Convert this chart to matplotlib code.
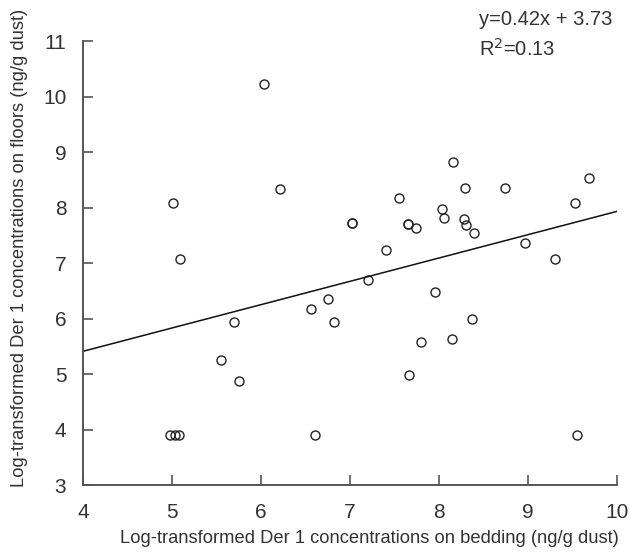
import numpy as np
import matplotlib
matplotlib.use('Agg')
import matplotlib.pyplot as plt

# Der 1 on bedding (x) vs floors (y)
bedding = [4.98, 5.03, 5.08, 5.01, 5.09, 5.55, 5.70, 5.76, 6.04, 6.22,
           6.56, 6.61, 6.75, 6.82, 7.03, 7.03, 7.21, 7.41, 7.55, 7.65,
           7.65, 7.67, 7.74, 7.80, 7.955, 8.04, 8.06, 8.165, 8.15, 8.28,
           8.30, 8.31, 8.37, 8.40, 8.74, 8.97, 9.31, 9.53, 9.55, 9.69]
floors = [3.90, 3.90, 3.90, 8.08, 7.08, 5.26, 5.93, 4.87, 10.23, 8.33,
          6.18, 3.90, 6.35, 5.93, 7.73, 7.72, 6.69, 7.24, 8.18, 7.71,
          7.70, 4.99, 7.64, 5.57, 6.47, 7.97, 7.82, 8.82, 5.64, 7.80,
          8.35, 7.68, 6.00, 7.54, 8.35, 7.37, 7.08, 8.08, 3.90, 8.53]

slope = 0.42
intercept = 3.73
r2 = 0.13

plt.rcParams['font.family'] = ['Liberation Sans Narrow', 'Liberation Sans', 'DejaVu Sans']

fig = plt.figure(figsize=(6.3, 5.55), dpi=100)
ax = fig.add_axes([0.1317, 0.126, 0.847, 0.8])

ax.plot(bedding, floors, 'o', mfc='none', mec='#222222', ms=6.5, mew=1.0)

xfit = np.array([4, 10])
ax.plot(xfit, slope * xfit + intercept, color='#111111', lw=1.1)

ax.set_xlim(4, 10)
ax.set_ylim(3, 11)
ax.set_xticks(range(4, 11))
ax.set_yticks(range(3, 12))

for s in ['top', 'right']:
    ax.spines[s].set_visible(False)
for s in ['left', 'bottom']:
    ax.spines[s].set_color('#555555')
    ax.spines[s].set_linewidth(1.4)
ax.tick_params(direction='in', length=7, width=1.2, color='#555555',
               labelsize=15, labelcolor='#333333')
ax.tick_params(axis='x', pad=13)
ax.tick_params(axis='y', pad=12)

ax.set_xlabel('Log-transformed Der 1 concentrations on bedding (ng/g dust)',
              fontsize=13.2, color='#333333')
ax.set_ylabel('Log-transformed Der 1 concentrations on floors (ng/g dust)',
              fontsize=13.2, color='#333333')
ax.xaxis.set_label_coords(0.537, -0.101)
ax.yaxis.set_label_coords(-0.103, 0.534)

fig.text(0.76, 0.964, 'y=%.2fx + %.2f' % (slope, intercept), fontsize=14.5,
         color='#333333', va='center')
fig.text(0.76, 0.912, 'R$^2$=%.2f' % r2, fontsize=14.5, color='#333333', va='center')

fig.savefig('out.png', dpi=100)
